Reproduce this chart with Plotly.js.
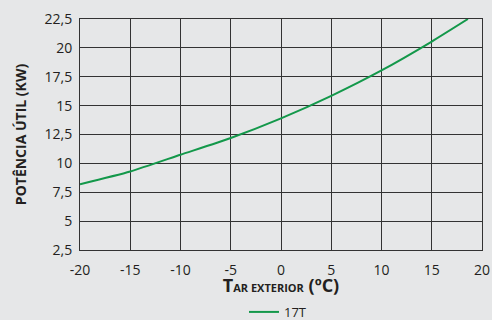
<!DOCTYPE html>
<html>
<head>
<meta charset="utf-8">
<script src="https://cdn.plot.ly/plotly-3.0.1.min.js"></script>
<style>
html,body{margin:0;padding:0;background:#e6e7e8;}
#chart{width:492px;height:320px;}
</style>
</head>
<body>
<div id="chart"></div>
<script>
const seriesName = "17T";
const tempExterior = [-20, -15, -10, -5, 0, 5, 10, 15, 18.6];
const potenciaUtil = [8.2, 9.3, 10.75, 12.2, 13.9, 15.85, 18.05, 20.55, 22.5];
const xTicks = [-20, -15, -10, -5, 0, 5, 10, 15, 20];
const xTickLabels = ["-20", "-15", "-10", "-5", "0", "5", "10", "15", "20"];
const yTicks = [2.5, 5, 7.5, 10, 12.5, 15, 17.5, 20, 22.5];
const yTickLabels = ["2,5", "5", "7,5", "10", "12,5", "15", "17,5", "20", "22,5"];

const trace = {
  x: tempExterior,
  y: potenciaUtil,
  type: 'scatter',
  mode: 'lines',
  name: seriesName,
  line: {color: '#13984a', width: 2, shape: 'spline', smoothing: 0.6}
};

const layout = {
  width: 492, height: 320,
  paper_bgcolor: '#e6e7e8',
  plot_bgcolor: '#e6e7e8',
  margin: {l: 80, r: 10, t: 19, b: 70},
  font: {family: 'Open Sans, sans-serif', color: '#231f20', size: 14},
  separators: ',.',
  showlegend: true,
  legend: {orientation: 'h', x: 0.565, xanchor: 'center', xref: 'container',
           y: 0.072, yanchor: 'top', yref: 'container',
           font: {size: 13, color: '#231f20'}, bgcolor: 'rgba(0,0,0,0)'},
  xaxis: {
    range: [-20, 20], tickvals: xTicks, ticktext: xTickLabels,
    ticks: 'outside', ticklen: 7, tickcolor: 'rgba(0,0,0,0)', showgrid: true,
    gridcolor: '#333333', gridwidth: 1, zeroline: false,
    showline: true, linecolor: '#333333', mirror: true, linewidth: 1,
    tickfont: {size: 14, color: '#231f20'},
    title: {text: '<b>T<span style="font-size:11px">AR EXTERIOR</span> (ºC)</b>',
            font: {size: 18, color: '#231f20'}}
  },
  yaxis: {
    range: [2.5, 22.5], tickvals: yTicks, ticktext: yTickLabels,
    ticks: 'outside', ticklen: 4, tickcolor: 'rgba(0,0,0,0)', showgrid: true,
    gridcolor: '#333333', gridwidth: 1, zeroline: false,
    showline: true, linecolor: '#333333', mirror: true, linewidth: 1,
    tickfont: {size: 14, color: '#231f20'},
    title: {text: '<b>POTÊNCIA ÚTIL (KW)</b>', font: {size: 14, color: '#231f20'}, standoff: 14}
  }
};

Plotly.newPlot('chart', [trace], layout, {displayModeBar: false, staticPlot: true});
</script>
</body>
</html>
